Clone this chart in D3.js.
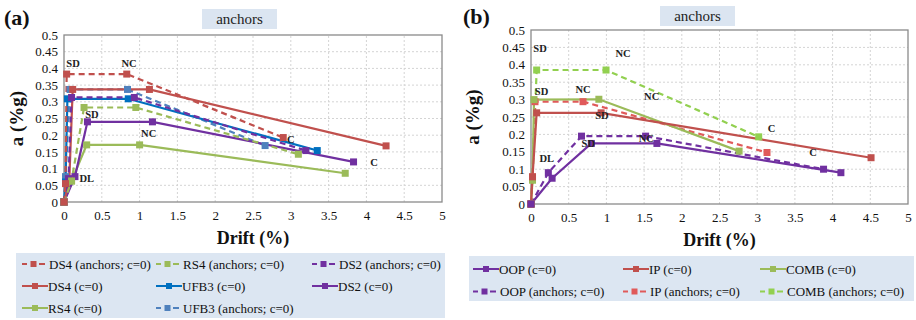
<!DOCTYPE html>
<html>
<head>
<meta charset="utf-8">
<script src="https://cdn.jsdelivr.net/npm/d3@7/dist/d3.min.js"></script>
<style>
  html, body { margin: 0; padding: 0; background: #fff; }
  svg, svg text { font-family: "Liberation Serif", "Times New Roman", "Liberation Sans", Arial, sans-serif; }
</style>
</head>
<body>
<svg id="chart" width="916" height="320"></svg>
<script>
// Axis ticks shared by both panels
const driftTicks = [0, 0.5, 1, 1.5, 2, 2.5, 3, 3.5, 4, 4.5, 5];
const accTicks = [0, 0.05, 0.1, 0.15, 0.2, 0.25, 0.3, 0.35, 0.4, 0.45, 0.5];

// Panel (a): [drift %, a (%g)] per capacity curve
const ds4Anchors  = [[0, 0], [0.02, 0.055], [0.035, 0.383], [0.83, 0.383], [2.90, 0.193]];
const rs4Anchors  = [[0, 0], [0.10, 0.063], [0.265, 0.283], [0.95, 0.283], [3.10, 0.143]];
const ds2Anchors  = [[0, 0], [0.06, 0.07], [0.10, 0.313], [0.93, 0.313], [3.20, 0.154]];
const ds4Plain    = [[0, 0], [0.07, 0.065], [0.115, 0.337], [1.13, 0.337], [4.26, 0.168]];
const ufb3Plain   = [[0, 0], [0.02, 0.06], [0.045, 0.309], [0.85, 0.309], [3.35, 0.154]];
const ds2Plain    = [[0, 0], [0.145, 0.076], [0.31, 0.240], [1.17, 0.240], [3.83, 0.120]];
const rs4Plain    = [[0, 0], [0.10, 0.063], [0.30, 0.171], [1.00, 0.171], [3.72, 0.086]];
const ufb3Anchors = [[0, 0], [0.02, 0.076], [0.08, 0.337], [0.84, 0.337], [2.66, 0.169]];

// Panel (b)
const oopPlain    = [[0, 0], [0.28, 0.074], [0.80, 0.174], [1.67, 0.174], [4.11, 0.090]];
const ipPlain     = [[0, 0], [0.02, 0.078], [0.075, 0.262], [0.93, 0.262], [4.51, 0.133]];
const combPlain   = [[0, 0], [0.02, 0.069], [0.04, 0.300], [0.90, 0.301], [2.76, 0.152]];
const oopAnchors  = [[0, 0], [0.23, 0.090], [0.67, 0.195], [1.52, 0.195], [3.88, 0.100]];
const ipAnchors   = [[0, 0], [0.02, 0.078], [0.053, 0.294], [0.69, 0.294], [3.13, 0.148]];
const combAnchors = [[0, 0], [0.02, 0.069], [0.075, 0.385], [0.995, 0.385], [3.02, 0.193]];

// Limit-state annotations, placed in data units
const notesA = [
  ["SD", 0.12, 0.415], ["NC", 0.86, 0.415], ["SD", 0.37, 0.263], ["NC", 1.12, 0.206],
  ["DL", 0.30, 0.069], ["C", 3.00, 0.186], ["C", 4.10, 0.118]
];
const notesB = [
  ["SD", 0.12, 0.447], ["NC", 1.22, 0.433], ["SD", 0.14, 0.323], ["NC", 0.69, 0.330],
  ["NC", 1.60, 0.308], ["SD", 0.94, 0.254], ["SD", 0.76, 0.174], ["NC", 1.53, 0.189],
  ["DL", 0.21, 0.131], ["C", 3.19, 0.218], ["C", 3.74, 0.147]
];

const RED = "#c0504d", RED_LIGHT = "#e05a5a", GREEN = "#9bbb59", GREEN_BRIGHT = "#92d050",
      PURPLE = "#7030a0", BLUE = "#0070c0", STEEL = "#4f81bd";

// Series in legend order (drawn in reverse so the first sits on top)
const seriesA = [
  { name: "DS4 (anchors; c=0)",  data: ds4Anchors,  color: RED,    dashed: true },
  { name: "RS4 (anchors; c=0)",  data: rs4Anchors,  color: GREEN,  dashed: true },
  { name: "DS2 (anchors; c=0)",  data: ds2Anchors,  color: PURPLE, dashed: true },
  { name: "DS4 (c=0)",           data: ds4Plain,    color: RED,    dashed: false },
  { name: "UFB3 (c=0)",          data: ufb3Plain,   color: BLUE,   dashed: false },
  { name: "DS2 (c=0)",           data: ds2Plain,    color: PURPLE, dashed: false },
  { name: "RS4 (c=0)",           data: rs4Plain,    color: GREEN,  dashed: false },
  { name: "UFB3 (anchors; c=0)", data: ufb3Anchors, color: STEEL,  dashed: true }
];
const seriesB = [
  { name: "OOP (c=0)",            data: oopPlain,    color: PURPLE,       dashed: false },
  { name: "IP (c=0)",             data: ipPlain,     color: RED,          dashed: false },
  { name: "COMB (c=0)",           data: combPlain,   color: GREEN,        dashed: false },
  { name: "OOP (anchors; c=0)",   data: oopAnchors,  color: PURPLE,       dashed: true },
  { name: "IP (anchors; c=0)",    data: ipAnchors,   color: RED_LIGHT,    dashed: true },
  { name: "COMB (anchors; c=0)",  data: combAnchors, color: GREEN_BRIGHT, dashed: true }
];

const FONT = "'Liberation Serif', 'Times New Roman', 'Liberation Sans', Arial, sans-serif";
const svg = d3.select("#chart");

function drawPanel(cfg) {
  const x = d3.scaleLinear().domain([0, 5]).range([cfg.x0, cfg.x1]);
  const y = d3.scaleLinear().domain([0, 0.5]).range([cfg.y0, cfg.y1]);
  const g = svg.append("g");

  // dotted grid
  g.append("g").selectAll("line").data(driftTicks.slice(1, -1)).join("line")
    .attr("x1", d => x(d)).attr("x2", d => x(d)).attr("y1", y(0)).attr("y2", y(0.5))
    .attr("stroke", "#d4d4d4").attr("stroke-dasharray", "2,2");
  g.append("g").selectAll("line").data(accTicks.slice(1, -1)).join("line")
    .attr("x1", x(0)).attr("x2", x(5)).attr("y1", d => y(d)).attr("y2", d => y(d))
    .attr("stroke", "#d4d4d4").attr("stroke-dasharray", "2,2");

  g.append("rect").attr("x", x(0)).attr("y", y(0.5))
    .attr("width", x(5) - x(0)).attr("height", y(0) - y(0.5))
    .attr("fill", "none").attr("stroke", "#8a8a8a").attr("stroke-width", 1.3);

  // axes (labels only)
  const ax = g.append("g").attr("transform", `translate(0,${y(0)})`)
    .call(d3.axisBottom(x).tickValues(driftTicks).tickSize(0).tickPadding(9).tickFormat(d3.format("")));
  const ay = g.append("g").attr("transform", `translate(${x(0)},0)`)
    .call(d3.axisLeft(y).tickValues(accTicks).tickSize(0).tickPadding(6).tickFormat(d3.format("")));
  [ax, ay].forEach(a => {
    a.attr("font-family", FONT);
    a.select(".domain").remove();
    a.selectAll("text").attr("font-family", FONT).attr("font-size", 13).attr("fill", "#111");
  });

  // curves
  const line = d3.line().x(d => x(d[0])).y(d => y(d[1]));
  const series = cfg.series.slice().reverse();
  series.forEach(s => {
    g.append("path").datum(s.data).attr("d", line)
      .attr("fill", "none").attr("stroke", s.color).attr("stroke-width", 2.2)
      .attr("stroke-dasharray", s.dashed ? "6,4" : null);
  });
  series.forEach(s => {
    g.append("g").selectAll("rect").data(s.data).join("rect")
      .attr("x", d => x(d[0]) - 3.5).attr("y", d => y(d[1]) - 3.5)
      .attr("width", 7).attr("height", 7).attr("fill", s.color);
  });

  // limit-state notes
  g.append("g").selectAll("text").data(cfg.notes).join("text")
    .attr("x", d => x(d[1])).attr("y", d => y(d[2]))
    .attr("text-anchor", "middle").attr("dominant-baseline", "central")
    .attr("font-family", FONT).attr("font-size", 10.5).attr("font-weight", "bold").attr("fill", "#222")
    .text(d => d[0]);

  // titles
  g.append("text").attr("x", cfg.titleX).attr("y", cfg.titleY).attr("font-family", FONT)
    .attr("font-size", 22).attr("font-weight", "bold").attr("fill", "#111").text(cfg.tag);
  g.append("rect").attr("x", cfg.boxX).attr("y", cfg.boxY).attr("width", 75).attr("height", 20)
    .attr("fill", "#dbe5f1");
  g.append("text").attr("x", cfg.boxX + 37.5).attr("y", cfg.boxY + 15).attr("font-family", FONT)
    .attr("text-anchor", "middle").attr("font-size", 15).attr("fill", "#222").text("anchors");
  g.append("text").attr("x", (x(0) + x(5)) / 2).attr("y", y(0) + 42).attr("font-family", FONT)
    .attr("text-anchor", "middle").attr("font-size", 18).attr("font-weight", "bold").attr("fill", "#111")
    .text("Drift (%)");
  g.append("text").attr("font-family", FONT)
    .attr("transform", `translate(${cfg.ylabX},${(y(0) + y(0.5)) / 2}) rotate(-90)`)
    .attr("text-anchor", "middle").attr("font-size", 19).attr("font-weight", "bold").attr("fill", "#111")
    .text("a (%g)");

  // legend
  const L = cfg.legend;
  svg.append("rect").attr("x", L.x).attr("y", L.y).attr("width", L.w).attr("height", L.h)
    .attr("fill", "#dce6f2");
  cfg.series.forEach((s, i) => {
    const col = i % 3, row = Math.floor(i / 3);
    const sx = L.cols[col], sy = L.rows[row];
    const lg = svg.append("g");
    if (s.dashed) {
      lg.append("line").attr("x1", sx).attr("x2", sx + 5).attr("y1", sy).attr("y2", sy)
        .attr("stroke", s.color).attr("stroke-width", 2);
      lg.append("line").attr("x1", sx + 17).attr("x2", sx + 23).attr("y1", sy).attr("y2", sy)
        .attr("stroke", s.color).attr("stroke-width", 2);
      lg.append("rect").attr("x", sx + 8.5).attr("y", sy - 3).attr("width", 6).attr("height", 6).attr("fill", s.color);
    } else {
      lg.append("line").attr("x1", sx).attr("x2", sx + 26).attr("y1", sy).attr("y2", sy)
        .attr("stroke", s.color).attr("stroke-width", 2);
      lg.append("rect").attr("x", sx + 10).attr("y", sy - 3).attr("width", 6).attr("height", 6).attr("fill", s.color);
    }
    lg.append("text").attr("x", sx + (s.dashed ? 27 : 26)).attr("y", sy + 4.5).attr("font-family", FONT)
      .attr("font-size", 13).attr("fill", "#111").text(s.name);
  });
}

drawPanel({
  x0: 64, x1: 442, y0: 202, y1: 35, series: seriesA, notes: notesA,
  tag: "(a)", titleX: 4, titleY: 25, boxX: 202, boxY: 9, ylabX: 23,
  legend: { x: 16, y: 253, w: 429, h: 65, cols: [22, 156, 312], rows: [264, 286, 308] }
});
drawPanel({
  x0: 531, x1: 908, y0: 204, y1: 30, series: seriesB, notes: notesB,
  tag: "(b)", titleX: 463, titleY: 24, boxX: 660, boxY: 6, ylabX: 479,
  legend: { x: 469, y: 256, w: 445, h: 45, cols: [473, 623, 760], rows: [269, 291.5] }
});
</script>
</body>
</html>
